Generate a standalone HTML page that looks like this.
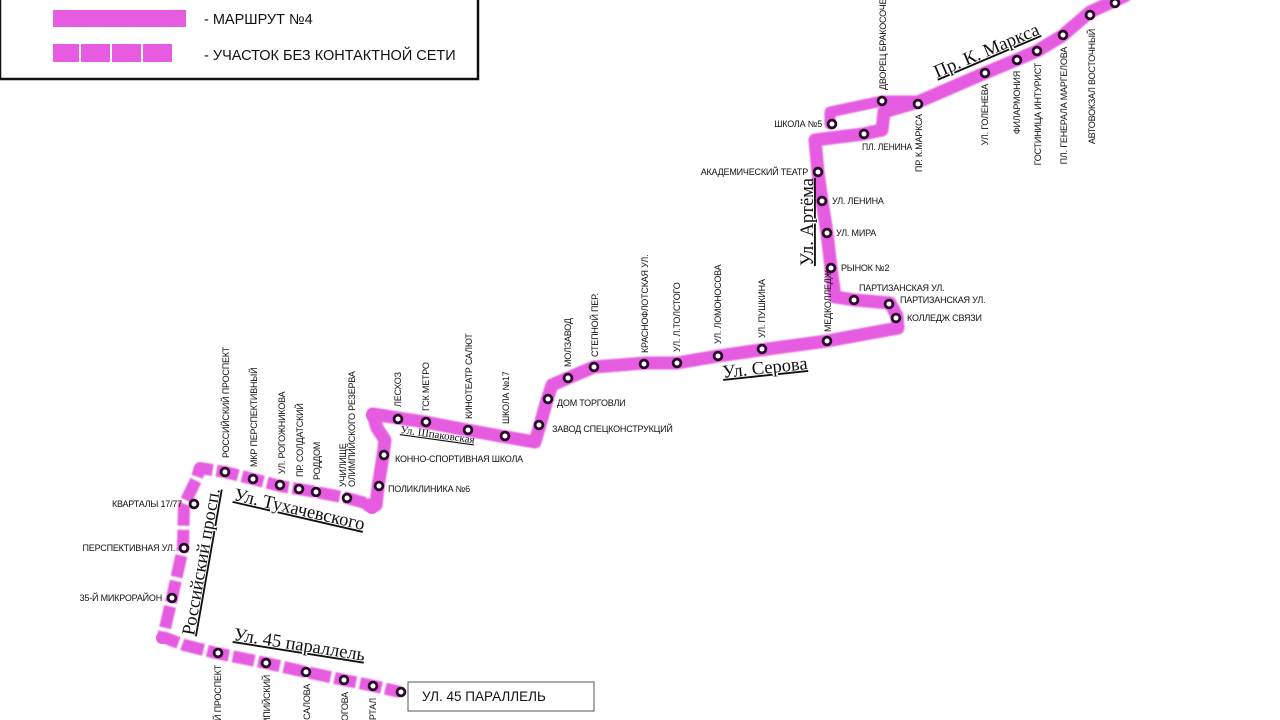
<!DOCTYPE html>
<html><head><meta charset="utf-8"><style>
html,body{margin:0;padding:0;background:#fff;width:1280px;height:720px;overflow:hidden}
svg{display:block}
.s{font-family:"Liberation Sans","DejaVu Sans",sans-serif;font-size:9px;fill:#111;letter-spacing:-0.2px}
.st{font-family:"Liberation Serif","DejaVu Serif",serif;font-size:18.5px;fill:#111;text-decoration:underline}
</style></head><body>
<svg width="1280" height="720" viewBox="0 0 1280 720" xmlns="http://www.w3.org/2000/svg" style="overflow:hidden">
<defs><filter id="b"><feGaussianBlur stdDeviation="0.8"/></filter></defs>
<!-- legend -->
<rect x="0" y="-3" width="478" height="82" fill="#fff" stroke="#111" stroke-width="2.5"/>
<rect x="53" y="10" width="133" height="17" fill="#e65be0"/>
<rect x="53" y="44" width="26" height="18" fill="#e65be0"/>
<rect x="81" y="44" width="29" height="18" fill="#e65be0"/>
<rect x="112" y="44" width="29" height="18" fill="#e65be0"/>
<rect x="143" y="44" width="29" height="18" fill="#e65be0"/>
<text x="204" y="24" font-family="Liberation Sans,sans-serif" font-size="14.5" fill="#111">- МАРШРУТ №4</text>
<text x="204" y="60" font-family="Liberation Sans,sans-serif" font-size="14.5" fill="#111">- УЧАСТОК БЕЗ КОНТАКТНОЙ СЕТИ</text>

<g fill="none" stroke="#e65be0" stroke-linejoin="round" stroke-linecap="round" filter="url(#b)">
<path stroke-width="13" d="M1125,-4 L1090,12 L1062,36 L1037,51 L1016,60 L985,73 L918,102 L884,112 L882,130 L863,134 L815,140 L818,172 L822,201 L827,233 L831,268 L835,297 L855,300 L890,303 L897,316 L898,328 L827,341 L760,350 L718,356 L677,363 L645,363 L594,367 L568,378 L552,385 L547,400 L540,425 L535,442 L506,437 L467,430 L425,422 L398,418 L373,414 L377,428 L385,440 L383,456 L378,487 L376,505 L368,505"/>
<path stroke-width="11" d="M830,124 L830,112 L882,101 L918,101"/>
<path stroke-width="12" stroke-linecap="butt" stroke-dasharray="22 4" d="M365,503 L347,498 L316,492 L298,489 L280,486 L253,479 L225,472 L200,468 L196,480 L184,505 L183,548 L172,598 L163,637 L184,645 L216,653 L266,663 L306,672 L344,680 L374,686 L400,692"/>
</g>
<circle cx="200" cy="469" r="6" fill="#e65be0"/>
<circle cx="162" cy="638" r="6" fill="#e65be0"/>
<circle cx="372" cy="507" r="7" fill="#e65be0"/>
<circle cx="373" cy="415" r="7" fill="#e65be0"/>

<g fill="#fff" stroke="#2a0a2a" stroke-width="2.8">
<circle cx="1115" cy="3" r="3.9"/><circle cx="1090" cy="15" r="3.9"/><circle cx="1063" cy="35" r="3.9"/><circle cx="1037" cy="51" r="3.9"/><circle cx="1017" cy="60" r="3.9"/><circle cx="985" cy="73" r="3.9"/><circle cx="918" cy="104" r="3.9"/><circle cx="882" cy="101" r="3.9"/><circle cx="832" cy="124" r="3.9"/><circle cx="864" cy="134" r="3.9"/>
<circle cx="818" cy="172" r="3.9"/><circle cx="822" cy="201" r="3.9"/><circle cx="827" cy="233" r="3.9"/><circle cx="831" cy="268" r="3.9"/><circle cx="854" cy="300" r="3.9"/><circle cx="889" cy="304" r="3.9"/><circle cx="896" cy="318" r="3.9"/>
<circle cx="827" cy="341" r="3.9"/><circle cx="762" cy="349" r="3.9"/><circle cx="718" cy="356" r="3.9"/><circle cx="677" cy="363" r="3.9"/><circle cx="644" cy="364" r="3.9"/><circle cx="594" cy="367" r="3.9"/><circle cx="568" cy="378" r="3.9"/><circle cx="548" cy="399" r="3.9"/><circle cx="539" cy="425" r="3.9"/>
<circle cx="505" cy="436" r="3.9"/><circle cx="468" cy="430" r="3.9"/><circle cx="426" cy="422" r="3.9"/><circle cx="398" cy="419" r="3.9"/><circle cx="384" cy="455" r="3.9"/><circle cx="379" cy="486" r="3.9"/>
<circle cx="347" cy="498" r="3.9"/><circle cx="316" cy="492" r="3.9"/><circle cx="299" cy="489" r="3.9"/><circle cx="280" cy="485" r="3.9"/><circle cx="253" cy="479" r="3.9"/><circle cx="225" cy="472" r="3.9"/>
<circle cx="194" cy="504" r="3.9"/><circle cx="184" cy="548" r="3.9"/><circle cx="172" cy="598" r="3.9"/>
<circle cx="218" cy="653" r="3.9"/><circle cx="266" cy="663" r="3.9"/><circle cx="306" cy="672" r="3.9"/><circle cx="344" cy="680" r="3.9"/><circle cx="373" cy="686" r="3.9"/><circle cx="401" cy="692" r="3.9"/>
</g>

<g class="s">
<text transform="translate(886,90) rotate(-90)">ДВОРЕЦ БРАКОСОЧЕТАНИЯ</text>
<text transform="translate(831,332) rotate(-90)">МЕДКОЛЛЕДЖ</text>
<text transform="translate(765,338) rotate(-90)">УЛ. ПУШКИНА</text>
<text transform="translate(721,344) rotate(-90)">УЛ. ЛОМОНОСОВА</text>
<text transform="translate(680,352) rotate(-90)">УЛ. Л.ТОЛСТОГО</text>
<text transform="translate(648,353) rotate(-90)">КРАСНОФЛОТСКАЯ УЛ.</text>
<text transform="translate(598,357) rotate(-90)">СТЕПНОЙ ПЕР.</text>
<text transform="translate(571,367) rotate(-90)">МОЛЗАВОД</text>
<text transform="translate(509,424) rotate(-90)">ШКОЛА №17</text>
<text transform="translate(472,419) rotate(-90)">КИНОТЕАТР САЛЮТ</text>
<text transform="translate(429,411) rotate(-90)">ГСК МЕТРО</text>
<text transform="translate(401,407) rotate(-90)">ЛЕСХОЗ</text>
<text transform="translate(346,487) rotate(-90)">УЧИЛИЩЕ</text>
<text transform="translate(355,487) rotate(-90)">ОЛИМПИЙСКОГО РЕЗЕРВА</text>
<text transform="translate(320,480) rotate(-90)">РОДДОМ</text>
<text transform="translate(303,477) rotate(-90)">ПР. СОЛДАТСКИЙ</text>
<text transform="translate(285,474) rotate(-90)">УЛ. РОГОЖНИКОВА</text>
<text transform="translate(257,467) rotate(-90)">МКР ПЕРСПЕКТИВНЫЙ</text>
<text transform="translate(229,458) rotate(-90)">РОССИЙСКИЙ ПРОСПЕКТ</text>
<text transform="translate(922,114) rotate(-90)" text-anchor="end">ПР. К.МАРКСА</text>
<text transform="translate(988,84) rotate(-90)" text-anchor="end">УЛ. ГОЛЕНЕВА</text>
<text transform="translate(1020,71) rotate(-90)" text-anchor="end">ФИЛАРМОНИЯ</text>
<text transform="translate(1041,63) rotate(-90)" text-anchor="end">ГОСТИНИЦА ИНТУРИСТ</text>
<text transform="translate(1067,47) rotate(-90)" text-anchor="end">ПЛ. ГЕНЕРАЛА МАРГЕЛОВА</text>
<text transform="translate(1095,29) rotate(-90)" text-anchor="end">АВТОВОКЗАЛ ВОСТОЧНЫЙ</text>
<text transform="translate(221,665) rotate(-90)" text-anchor="end">РОССИЙСКИЙ ПРОСПЕКТ</text>
<text transform="translate(270,675) rotate(-90)" text-anchor="end">ОЛИМПИЙСКИЙ</text>
<text transform="translate(310,684) rotate(-90)" text-anchor="end">УЛ. САЛОВА</text>
<text transform="translate(348,692) rotate(-90)" text-anchor="end">УЛ. РОГОВА</text>
<text transform="translate(376,698) rotate(-90)" text-anchor="end">КВАРТАЛ</text>
<text x="822" y="127" text-anchor="end">ШКОЛА №5</text>
<text x="862" y="150" textLength="50" lengthAdjust="spacingAndGlyphs">ПЛ. ЛЕНИНА</text>
<text x="808" y="175" text-anchor="end">АКАДЕМИЧЕСКИЙ ТЕАТР</text>
<text x="832" y="204">УЛ. ЛЕНИНА</text>
<text x="836" y="236">УЛ. МИРА</text>
<text x="841" y="271">РЫНОК №2</text>
<text x="859" y="291">ПАРТИЗАНСКАЯ УЛ.</text>
<text x="900" y="303">ПАРТИЗАНСКАЯ УЛ.</text>
<text x="907" y="321">КОЛЛЕДЖ СВЯЗИ</text>
<text x="557" y="406">ДОМ ТОРГОВЛИ</text>
<text x="552" y="432">ЗАВОД СПЕЦКОНСТРУКЦИЙ</text>
<text x="395" y="462">КОННО-СПОРТИВНАЯ ШКОЛА</text>
<text x="388" y="492">ПОЛИКЛИНИКА №6</text>
<text x="182" y="507" text-anchor="end">КВАРТАЛЫ 17/77</text>
<text x="175" y="551" text-anchor="end">ПЕРСПЕКТИВНАЯ УЛ.</text>
<text x="162" y="601" text-anchor="end">35-Й МИКРОРАЙОН</text>
</g>

<text class="st" transform="translate(937,78) rotate(-23)">Пр. К. Маркса</text>
<text class="st" transform="translate(813,266) rotate(-90)">Ул. Артёма</text>
<text class="st" transform="translate(723,378) rotate(-6)">Ул. Серова</text>
<text class="st" style="font-size:11px" transform="translate(400,433) rotate(8)">Ул. Шпаковская</text>
<text class="st" transform="translate(233,500) rotate(13)">Ул. Тухачевского</text>
<text class="st" transform="translate(194,636) rotate(-80)">Российский просп.</text>
<text class="st" transform="translate(233,640) rotate(9)">Ул. 45 параллель</text>

<rect x="408" y="682" width="186" height="29" fill="#fff" stroke="#555" stroke-width="1"/>
<text x="422" y="701" font-family="Liberation Sans,sans-serif" font-size="13.5" fill="#111">УЛ. 45 ПАРАЛЛЕЛЬ</text>
</svg>
</body></html>
